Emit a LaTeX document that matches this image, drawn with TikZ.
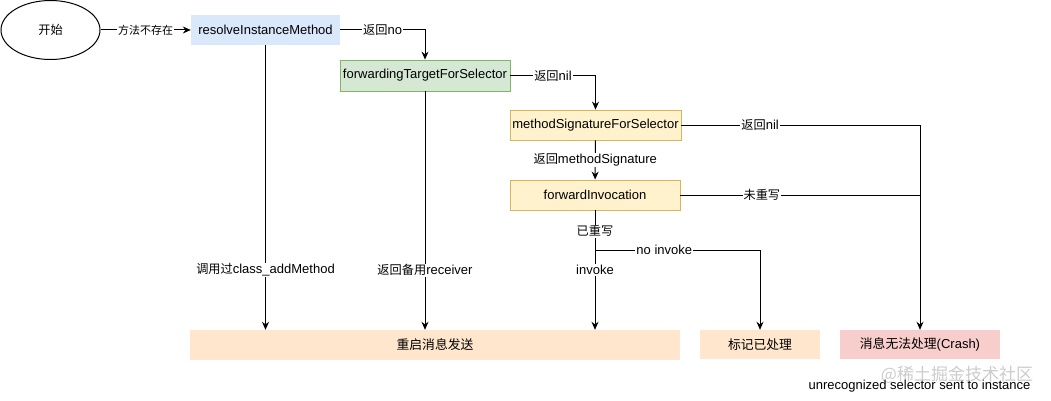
\documentclass[tikz,border=0pt]{standalone}
\usepackage{fontspec}
\setmainfont{Liberation Sans}
\newfontfamily\cjk{Noto Sans CJK SC}
\usetikzlibrary{shapes.geometric,arrows.meta}
\newcommand{\zh}[1]{{\cjk\fontsize{12.2}{14}\selectfont #1}}
\newcommand{\zhs}[1]{{\cjk\fontsize{11}{13}\selectfont #1}}
\newcommand{\zhb}[1]{{\cjk\fontsize{12.8}{15}\selectfont #1}}
\definecolor{blueF}{HTML}{DAE8FC}
\definecolor{greenF}{HTML}{D5E8D4}
\definecolor{greenS}{HTML}{82B366}
\definecolor{yelF}{HTML}{FFF2CC}
\definecolor{yelS}{HTML}{D6B656}
\definecolor{orgF}{HTML}{FFE6CC}
\definecolor{redF}{HTML}{F8CECC}
\tikzset{
  ell/.style={ellipse, draw, line width=1pt, minimum width=99pt, minimum height=59pt, inner sep=0pt, font=\fontsize{13}{15}\selectfont},
  box/.style={rectangle, inner sep=0pt, font=\fontsize{13}{15}\selectfont},
  lbl/.style={fill=white, inner sep=1pt, font=\fontsize{13}{15}\selectfont},
  con/.style={line width=1pt},
  arr/.style={con, -{Stealth[length=8pt,width=7pt]}},
}
\begin{document}
\begin{tikzpicture}[x=1pt,y=-1pt]
\useasboundingbox (0,0) rectangle (1051,401);
\fill[white] (0,0) rectangle (1051,401);
\node[ell] (start) at (50.5,30) {\zh{开始}};
\node[box, fill=blueF, minimum width=149pt, minimum height=30pt] (rim) at (265.5,30) {resolveInstanceMethod};
\node[box, draw=greenS, fill=greenF, line width=0.8pt, minimum width=170pt, minimum height=31pt] (fwd) at (425,75.5) {forwardingTargetForSelector};
\node[box, draw=yelS, fill=yelF, line width=0.8pt, minimum width=171pt, minimum height=30pt] (msig) at (595.5,125) {methodSignatureForSelector};
\node[box, draw=yelS, fill=yelF, line width=0.8pt, minimum width=170pt, minimum height=30pt] (finv) at (595,195) {forwardInvocation};
\node[box, fill=orgF, minimum width=490pt, minimum height=30pt] (restart) at (435,345) {\zhb{重启消息发送}};
\node[box, fill=orgF, minimum width=120pt, minimum height=29pt] (mark) at (760,344.5) {\zhb{标记已处理}};
\node[box, fill=redF, minimum width=160pt, minimum height=29pt] (crash) at (920,344.5) {\zhb{消息无法处理}(Crash)};
\node[text=black!20, font=\cjk\fontsize{17}{19}\selectfont, inner sep=0pt] (wm) at (957,375) {@稀土掘金技术社区};
\node[font=\fontsize{13}{15}\selectfont, inner sep=0pt] (unrec) at (919.5,386) {unrecognized selector sent to instance};
\coordinate (cj) at (920,195);
\coordinate (br) at (595,250);

\draw[arr] (start) -- node[lbl]{\zhs{方法不存在}} (rim);
\draw[arr] (rim.east) -| node[lbl,pos=0.25]{\zh{返回}no} (fwd.north);
\draw[arr] (fwd.east) -| node[lbl,pos=0.25]{\zh{返回}nil} (msig.north);
\draw[arr] (msig) -- node[lbl]{\zh{返回}methodSignature} (finv);
\draw[arr] (msig.east) -| node[lbl,pos=0.165]{\zh{返回}nil} (crash.north);
\draw[con] (finv.east) -- node[lbl,pos=0.34]{\zh{未重写}} (cj);
\draw[arr] (finv.south) -- node[lbl,pos=0.175]{\zh{已重写}} node[lbl,pos=0.5]{invoke} (finv.south |- restart.north);
\draw[arr] (br) -| node[lbl,pos=0.21]{no invoke} (mark.north);
\draw[arr] (rim.south) -- node[lbl,pos=0.79]{\zh{调用过}class\_addMethod} (rim.south |- restart.north);
\draw[arr] (fwd.south) -- node[lbl,pos=0.75]{\zh{返回备用}receiver} (fwd.south |- restart.north);
\end{tikzpicture}
\end{document}
